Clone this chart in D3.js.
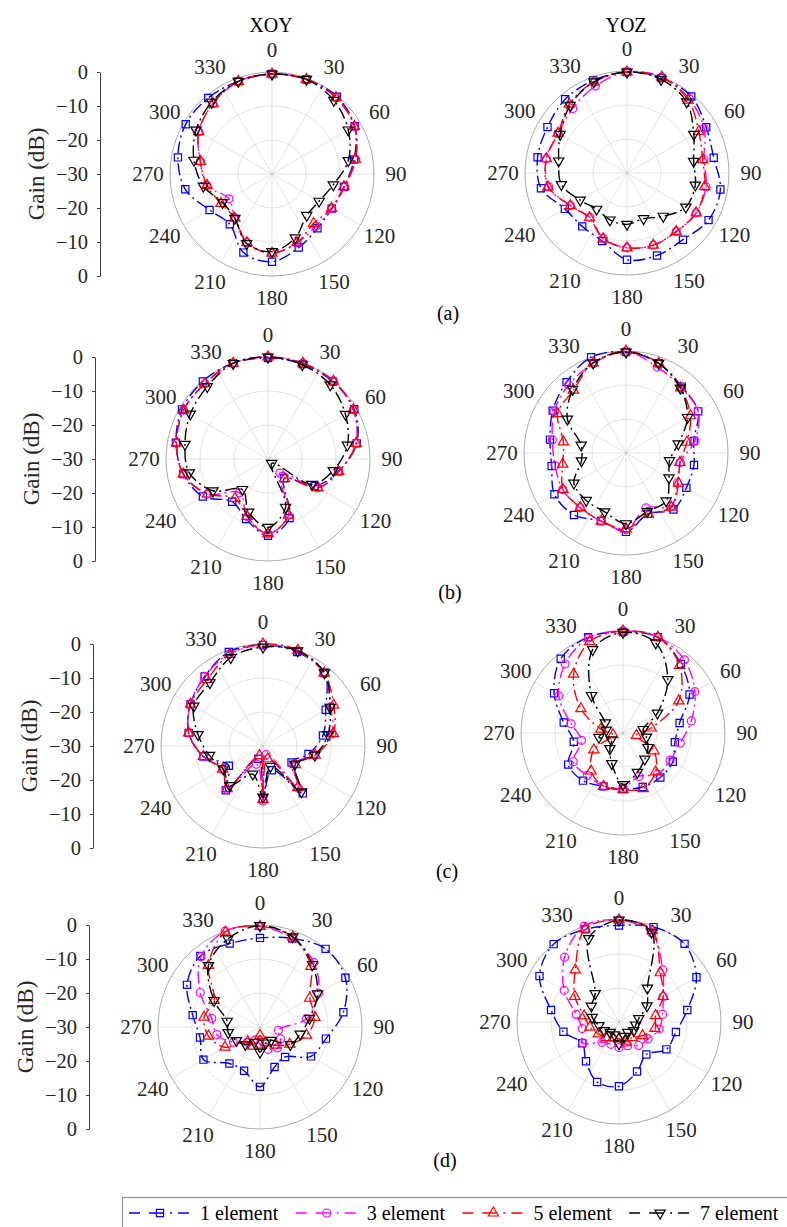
<!DOCTYPE html>
<html>
<head>
<meta charset="utf-8">
<script src="https://cdn.jsdelivr.net/npm/d3@7"></script>
<style>
  body { margin: 0; background: #fff; }
  svg { display: block; }
</style>
</head>
<body>
<div id="chart"></div>
<script>
// angles (deg) of the sampled points, every marker
const angles = d3.range(0, 360, 20);
const thetaTicks = d3.range(0, 360, 30);
const gainTicks = [0, -10, -20, -30, -20, -10, 0];
const seriesNames = ['1 element', '3 element', '5 element', '7 element'];
const panelLabels = ['(a)', '(b)', '(c)', '(d)'];
const planeTitles = ['XOY', 'YOZ'];

// gain (dB), 0..340 deg step 20
// (a)
const a_xoy_1 = [-0.6, -0.4, -0.3, -1.9, -5.5, -8.5, -9.7, -9.2, -7, -4.2, -5.4, -10.7, -8.8, -4.1, -1.9, -0.7, -0.8, -1];
const a_xoy_3 = [-0.6, -0.4, -0.7, -2, -5, -8.3, -9.7, -9.9, -8.5, -6.7, -8.5, -13, -15.4, -10.6, -8.6, -5.1, -3, -1];
const a_xoy_5 = [-0.6, -0.4, -0.7, -2, -5.1, -8.5, -9.8, -11, -8.5, -6.7, -8.5, -13, -12.7, -10.6, -8.6, -5.1, -3, -1];
const a_xoy_7 = [-0.6, -0.4, -1.7, -4.1, -7.2, -11.7, -14, -14.1, -10, -7.2, -8.2, -13, -13.2, -9.5, -6.7, -4.2, -2.4, -1];
const a_yoz_1 = [-0.3, -0.3, -0.6, -3.1, -4.1, -2.1, -2.3, -4.4, -4.2, -4.5, -8.7, -9.5, -8.9, -4.3, -3.3, -3, -1.7, -1];
const a_yoz_3 = [-0.3, 0, -1.5, -3.8, -7, -6.4, -6.5, -7.5, -7.4, -8, -9.6, -13, -10.8, -6.6, -5.9, -6.6, -5.2, -2.8];
const a_yoz_5 = [-0.3, 0, -2, -5.6, -7.4, -6.8, -6.5, -7.5, -7.4, -8, -9.4, -12.8, -10.8, -6.4, -5.9, -6.6, -3.6, -1.5];
const a_yoz_7 = [-0.3, -0.7, -2.7, -7.3, -10.1, -9.6, -10, -13.4, -15.7, -14.9, -15.3, -16.1, -14.1, -10.4, -9.6, -7.3, -4, -1.5];
// (b)
const b_xoy_1 = [-0.3, -0.3, -0.3, -0.7, -3.5, -9, -14.1, -22.6, -11.5, -7.4, -11.2, -13.6, -7.9, -4.7, -2.5, -0.8, -0.2, 0];
const b_xoy_3 = [0, 0, -0.1, -1, -3.7, -8.9, -13.1, -24.6, -12.4, -8, -12, -17, -9.4, -4.7, -2.7, -1.3, -1.1, 0];
const b_xoy_5 = [0, 0, -0.1, -1, -3.7, -8.9, -13.1, -22.4, -12.4, -8, -12, -14.9, -9.4, -4.7, -2.7, -1.3, -1.1, 0];
const b_xoy_7 = [0, -0.5, -1.5, -3.7, -6.3, -10.5, -15.1, -28.3, -14.9, -9.9, -13.4, -18.3, -11.3, -6.5, -5.2, -3.6, -2.2, -0.1];
const b_yoz_1 = [-0.3, -1.9, -4.5, -5.5, -9.8, -9.7, -9.5, -8.3, -11, -6.8, -8.7, -6.2, -5.7, -7.8, -7.3, -5.1, -2.8, 0];
const b_yoz_3 = [-0.2, -3.1, -4.8, -5.5, -9.4, -13.8, -12.5, -9.5, -12.8, -7.4, -8.7, -9, -8.5, -8.8, -8, -5.6, -3.8, -2];
const b_yoz_5 = [0, -1.9, -5, -8.1, -11.8, -13.9, -12.2, -9.2, -10.8, -7.7, -8.7, -9.1, -8.6, -11.1, -11.3, -6.8, -5.9, -1.8];
const b_yoz_7 = [-0.3, -1.9, -5.1, -9.1, -14.4, -17, -15.4, -11.6, -11.7, -9.2, -11.6, -11.8, -12.3, -16.7, -16.6, -10.1, -5.6, -1.8];
// (c)
const c_xoy_1 = [-0.3, -0.6, -1.9, -8.7, -12.1, -16.4, -20.3, -11.8, -22.4, -14.5, -26, -13, -18.4, -12.2, -7.8, -5.4, -3.3, -0.6];
const c_xoy_3 = [-0.3, -0.3, -2.2, -7, -9.5, -15, -19.5, -13.8, -27.3, -13.8, -24.3, -13.4, -16.3, -12.2, -7.8, -5.4, -3.3, -1.2];
const c_xoy_5 = [0, 0, -2, -6, -9, -14.4, -19, -14.1, -26, -14.2, -27, -13.6, -16.3, -12.2, -7.8, -5.4, -4.5, -1.3];
const c_xoy_7 = [-0.9, -0.2, -1.9, -7.2, -10.6, -14.5, -19.2, -12.4, -23.6, -15, -21.2, -14.8, -16.5, -14, -10.6, -6.5, -5.7, -2.3];
const c_yoz_1 = [-0.3, 0, -3.5, -7.4, -13.1, -14.5, -13.1, -12.9, -13.1, -13.5, -13.3, -11.7, -11.4, -15.3, -12.3, -6.6, -1.5, 0];
const c_yoz_3 = [0, 0, -1.9, -5.6, -9.6, -12.9, -14, -14.2, -16.4, -13.8, -13.4, -13.7, -13.1, -17.6, -14.5, -8.2, -3.5, -0.3];
const c_yoz_5 = [0, 0, -4.1, -11.1, -21.6, -26, -19.5, -15.1, -12.6, -13.3, -13.3, -15.4, -20.1, -27, -23.4, -15.7, -7.4, -1.4];
const c_yoz_7 = [-0.4, -1.8, -9.5, -18.3, -24, -23, -21.5, -20, -17.7, -14.8, -20.4, -24, -26, -22.8, -25, -24, -15.6, -3.9];
// (d)
const d_xoy_1 = [-3.8, -2.3, 0, -1, -5.1, -10.3, -12.7, -18.5, -17.5, -12.4, -16.3, -16, -10.8, -12.1, -9.9, -5.2, -2.7, -3.9];
const d_xoy_3 = [-0.4, -2.3, -5.3, -10.1, -16.1, -24.5, -23, -22, -23, -25, -26, -24.1, -21, -17.1, -15.6, -9.7, -3, 0];
const d_xoy_5 = [-0.4, -1.8, -6.7, -13.1, -13.6, -16.1, -19.9, -23, -25, -27.5, -24, -24.4, -18.1, -14.6, -13.3, -14.4, -6.4, -0.3];
const d_xoy_7 = [-0.2, -1.8, -6, -10.5, -15.2, -18, -19.7, -24.9, -25, -22.6, -25.2, -23.3, -22, -20.5, -20.2, -14.4, -6.4, -2.4];
const d_yoz_1 = [-1.6, -0.3, 0, -3.7, -9.6, -13, -13.9, -17.5, -14.5, -11.1, -11.2, -14.9, -17.5, -13.4, -9.7, -3, -0.1, -1];
const d_yoz_3 = [0, -2.1, -10, -15, -17, -18, -20.1, -21, -22.6, -22.5, -23, -22.2, -17.7, -19, -17.2, -11.4, -5.1, 0];
const d_yoz_5 = [0, -1.4, -11.1, -15, -19.1, -19.3, -22, -24, -24, -25, -25, -24, -23, -21.3, -19.6, -15, -10, -0.9];
const d_yoz_7 = [0, -1.9, -17, -20.5, -24.1, -25, -25, -26, -25.5, -23.6, -26, -26, -25, -24, -22, -20.6, -19.1, -3.9];

const rows = [
  [[a_xoy_1, a_xoy_3, a_xoy_5, a_xoy_7], [a_yoz_1, a_yoz_3, a_yoz_5, a_yoz_7]],
  [[b_xoy_1, b_xoy_3, b_xoy_5, b_xoy_7], [b_yoz_1, b_yoz_3, b_yoz_5, b_yoz_7]],
  [[c_xoy_1, c_xoy_3, c_xoy_5, c_xoy_7], [c_yoz_1, c_yoz_3, c_yoz_5, c_yoz_7]],
  [[d_xoy_1, d_xoy_3, d_xoy_5, d_xoy_7], [d_yoz_1, d_yoz_3, d_yoz_5, d_yoz_7]]
];

// layout
const W = 787, H = 1227, R = 102;
const serif = 'Liberation Serif';
const leftCenters = [[272, 174], [268, 459], [263, 746], [260, 1027]];
const rightCenters = [[627, 173], [626, 453], [623, 733], [619, 1022]];
const axisXs = [100, 95, 93, 89];
const labelPos = [[448, 320], [450, 599], [447, 878], [445, 1167]];
const textColor = '#262626';
const colors = ['#0000ff', '#ff00ff', '#ff0000', '#000000'];
const symbols = [
  { type: d3.symbolSquare, size: 52, rot: 0 },
  { type: d3.symbolCircle, size: 50, rot: 0 },
  { type: d3.symbolTriangle, size: 46, rot: 0 },
  { type: d3.symbolTriangle, size: 46, rot: 180 }
];
const dash = '12,4,2,4';

const svg = d3.select('#chart').append('svg')
  .attr('width', W).attr('height', H)
  .attr('viewBox', [0, 0, W, H])
  .attr('font-family', serif);

const rScale = d3.scaleLinear().domain([-30, 0]).range([0, R]).clamp(true);
const toRad = d => d * Math.PI / 180;

function drawPolar(cx, cy, series) {
  const g = svg.append('g').attr('transform', `translate(${cx},${cy})`);

  // grid rings
  g.selectAll('circle.ring').data([-20, -10])
    .join('circle').attr('class', 'ring')
    .attr('r', d => rScale(d))
    .attr('fill', 'none').attr('stroke', '#dcdcdc').attr('stroke-width', 0.8);

  // spokes
  g.selectAll('line.spoke').data(thetaTicks)
    .join('line').attr('class', 'spoke')
    .attr('x1', 0).attr('y1', 0)
    .attr('x2', d => R * Math.sin(toRad(d)))
    .attr('y2', d => -R * Math.cos(toRad(d)))
    .attr('stroke', '#dcdcdc').attr('stroke-width', 0.8);

  g.append('circle').attr('r', R)
    .attr('fill', 'none').attr('stroke', '#ababab').attr('stroke-width', 1);

  g.append('circle').attr('r', 1).attr('fill', '#bbb');

  // theta labels
  g.selectAll('text.th').data(thetaTicks)
    .join('text').attr('class', 'th')
    .attr('x', d => (R + 22) * Math.sin(toRad(d)))
    .attr('y', d => -(R + 22) * Math.cos(toRad(d)))
    .attr('dy', '0.35em')
    .attr('text-anchor', 'middle')
    .attr('font-family', serif)
    .attr('font-size', 21)
    .attr('fill', textColor)
    .text(d => d);

  const line = d3.lineRadial()
    .angle(d => toRad(d[0]))
    .radius(d => rScale(d[1]))
    .curve(d3.curveCatmullRomClosed.alpha(0.5));

  series.forEach((vals, i) => {
    const pts = angles.map((a, k) => [a, vals[k]]);
    g.append('path')
      .datum(pts)
      .attr('d', line)
      .attr('fill', 'none')
      .attr('stroke', colors[i])
      .attr('stroke-width', 1.4)
      .attr('stroke-dasharray', dash);

    const sym = d3.symbol().type(symbols[i].type).size(symbols[i].size);
    g.selectAll(null).data(pts)
      .join('path')
      .attr('d', sym)
      .attr('transform', d => {
        const r = rScale(d[1]);
        const x = r * Math.sin(toRad(d[0])), y = -r * Math.cos(toRad(d[0]));
        return `translate(${x},${y}) rotate(${symbols[i].rot})`;
      })
      .attr('fill', 'none')
      .attr('stroke', colors[i])
      .attr('stroke-width', 1.2);
  });
}

function drawGainAxis(ax, cy) {
  const y = d3.scaleLinear().domain([0, gainTicks.length - 1]).range([cy - R, cy + R]);
  const fmt = d3.format('d');
  const gAx = svg.append('g')
    .attr('transform', `translate(${ax},0)`)
    .call(d3.axisLeft(y)
      .tickValues(d3.range(gainTicks.length))
      .tickFormat(i => fmt(gainTicks[i]))
      .tickSize(3).tickSizeOuter(0).tickPadding(9));
  gAx.attr('font-family', serif).attr('font-size', 20.5);
  gAx.select('.domain').attr('stroke', '#404040');
  gAx.selectAll('.tick line').attr('stroke', '#404040');
  gAx.selectAll('.tick text')
    .attr('font-size', 20.5).attr('fill', textColor)
    .attr('font-family', serif);

  svg.append('text')
    .attr('transform', `translate(${ax - 64},${cy}) rotate(-90)`)
    .attr('text-anchor', 'middle')
    .attr('dy', '0.35em')
    .attr('font-family', serif)
    .attr('font-size', 23).attr('fill', textColor)
    .text('Gain (dB)');
}

rows.forEach((row, i) => {
  drawGainAxis(axisXs[i], leftCenters[i][1]);
  drawPolar(leftCenters[i][0], leftCenters[i][1], row[0]);
  drawPolar(rightCenters[i][0], rightCenters[i][1], row[1]);
  svg.append('text')
    .attr('x', labelPos[i][0]).attr('y', labelPos[i][1])
    .attr('text-anchor', 'middle')
    .attr('font-family', serif)
    .attr('font-size', 20).attr('fill', '#000')
    .text(panelLabels[i]);
});

// plane titles
svg.selectAll('text.title').data(planeTitles)
  .join('text').attr('class', 'title')
  .attr('x', (d, i) => i === 0 ? 271 : 626)
  .attr('y', 32)
  .attr('text-anchor', 'middle')
  .attr('font-family', serif)
  .attr('font-size', 20).attr('fill', '#000')
  .text(d => d);

// legend
const lg = svg.append('g');
lg.append('rect')
  .attr('x', 122.5).attr('y', 1197.5)
  .attr('width', 700).attr('height', 60)
  .attr('fill', '#fff').attr('stroke', '#8c8c8c').attr('stroke-width', 1.2);

const legX = d3.scaleLinear().domain([0, 1]).range([129, 295.7]);
seriesNames.forEach((name, i) => {
  const x0 = legX(i), ly = 1213;
  const item = lg.append('g');
  item.append('line')
    .attr('x1', x0).attr('x2', x0 + 64)
    .attr('y1', ly).attr('y2', ly)
    .attr('stroke', colors[i]).attr('stroke-width', 1.4)
    .attr('stroke-dasharray', '11,9,14,7,2,6');
  item.append('path')
    .attr('d', d3.symbol().type(symbols[i].type).size(symbols[i].size)())
    .attr('transform', `translate(${x0 + 31},${ly}) rotate(${symbols[i].rot})`)
    .attr('fill', 'none').attr('stroke', colors[i]).attr('stroke-width', 1.2);
  item.append('text')
    .attr('x', x0 + 71).attr('y', 1220)
    .attr('font-family', serif)
    .attr('font-size', 20).attr('fill', '#000')
    .text(name);
});
</script>
</body>
</html>
